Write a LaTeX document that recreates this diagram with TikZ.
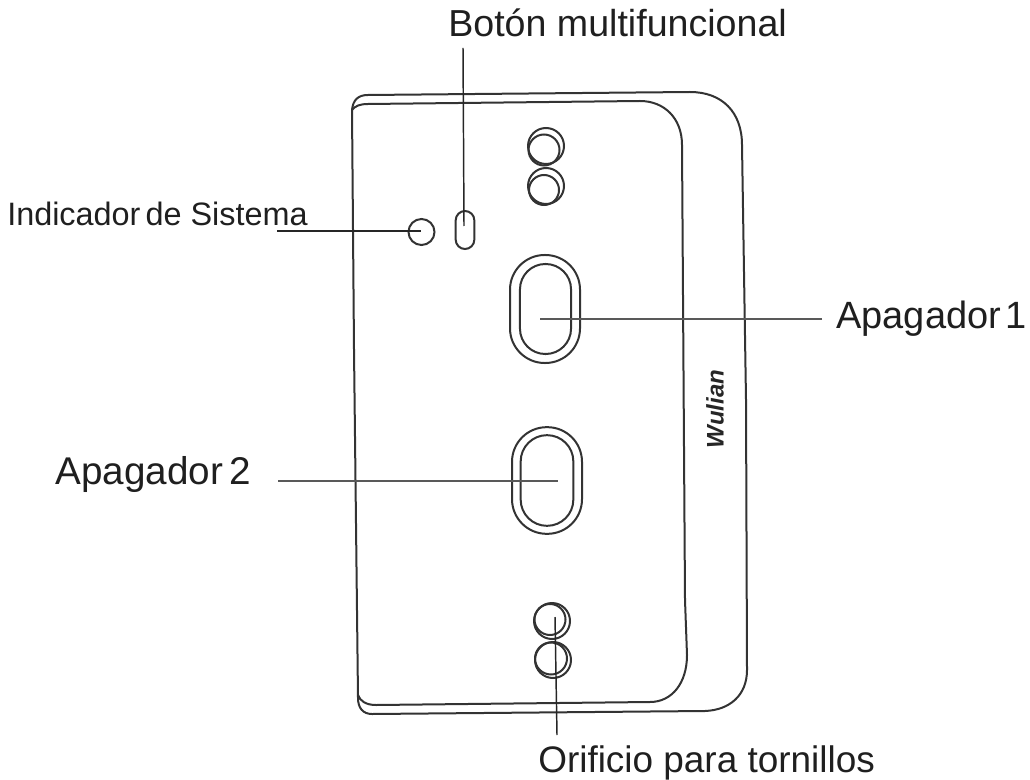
\documentclass[tikz,border=0pt]{standalone}
\usepackage{fontspec}
\setmainfont{Liberation Sans}
\tikzset{
  lbl/.style={inner sep=0pt,anchor=base west,text=black!88},
  ink/.style={draw=black!80,line width=1.5pt},
  leader/.style={draw=black!85,line width=1.1pt},
  faint leader/.style={draw=black!65,line width=1pt},
  disc/.style={circle,inner sep=0pt},
  slot/.style={ink,inner sep=0pt},
}
\begin{document}
\begin{tikzpicture}[x=0.75pt,y=-0.75pt]
\useasboundingbox (0,0) rectangle (1030,780);
% body
\draw[ink] (352,110) .. controls (353,100) and (358,95) .. (368,95)
  -- (690,92) .. controls (722,92) and (742,112) .. (742,145)
  -- (746,400) -- (747,670) .. controls (747,695) and (730,710) .. (705,711)
  -- (372,714) .. controls (363,714) and (358,708) .. (358,698)
  -- (354,350) -- cycle;
\draw[ink] (352,110) .. controls (355,106) and (360,104) .. (368,104)
  -- (640,101) .. controls (664,101) and (682,118) .. (682,145)
  -- (685,600) -- (687,655) .. controls (687,683) and (672,702) .. (650,702)
  -- (376,705) .. controls (366,705) and (360,701) .. (358,695);
% screws: each is a ring with a second circle inside it
\foreach \n/\cx/\cy/\r in {s1/546/146/18,s2/546/186/18,s3/552/621/18,s4/553/660/18}{
  \node[disc,ink,minimum size=2*\r*0.75pt] (\n) at (\cx,\cy) {};
}
\foreach \n/\cx/\cy/\r in {t1/544/150/15.5,t2/544/190/15,t3/550/619.5/15.5,t4/551/658.5/16}{
  \node[disc,ink,minimum size=2*\r*0.75pt] (\n) at (\cx,\cy) {};
}
% switches
\node[slot,rounded corners=26pt,minimum width=52.5pt,minimum height=81pt] (sw1o) at (545,309) {};
\node[slot,rounded corners=19pt,minimum width=38.3pt,minimum height=67.5pt] (sw1i) at (545.5,309) {};
\node[slot,rounded corners=26pt,minimum width=52.5pt,minimum height=80pt] (sw2o) at (547,480.5) {};
\node[slot,rounded corners=19.7pt,minimum width=39.5pt,minimum height=68pt] (sw2i) at (547,480.5) {};
% led and button
\node[disc,ink,minimum size=19.5pt] (led) at (421.5,232) {};
\node[slot,rounded corners=7pt,minimum width=14pt,minimum height=28.5pt] (btn) at (465,230) {};
% brand
\node[rotate=90,inner sep=0pt,text=black!85,font=\bfseries\itshape\fontsize{18}{20}\selectfont] (brand) at (715,409) {Wulian};
% labels
\node[lbl,font=\fontsize{28.2}{30}\selectfont] (lb1) at (448,37) {Botón multifuncional};
\node[lbl,font=\fontsize{24.3}{26}\selectfont] (lb2) at (7,226) {Indicador\kern-3pt{} de Sistema};
\node[lbl,font=\fontsize{28.5}{30}\selectfont] (lb3) at (836,328) {Apagador\kern-4.7pt{} 1};
\node[lbl,font=\fontsize{29}{30}\selectfont] (lb4) at (55,484) {Apagador\kern-2.8pt{} 2};
\node[lbl,font=\fontsize{27.7}{30}\selectfont] (lb5) at (538,772) {Orificio para tornillos};
% leaders
\coordinate (e1a) at (463,48); \coordinate (e1b) at (464,226);
\coordinate (e2a) at (277,231); \coordinate (e2b) at (421,231);
\coordinate (e3a) at (822,319); \coordinate (e3b) at (540,319);
\coordinate (e4a) at (278,481); \coordinate (e4b) at (558,481);
\coordinate (e5a) at (557,735); \coordinate (e5b) at (555,617);
\draw[leader] (e1a) -- (e1b);
\draw[leader] (e2a) -- (e2b);
\draw[faint leader] (e3a) -- (e3b);
\draw[faint leader] (e4a) -- (e4b);
\draw[leader] (e5a) -- (e5b);
\end{tikzpicture}
\end{document}
